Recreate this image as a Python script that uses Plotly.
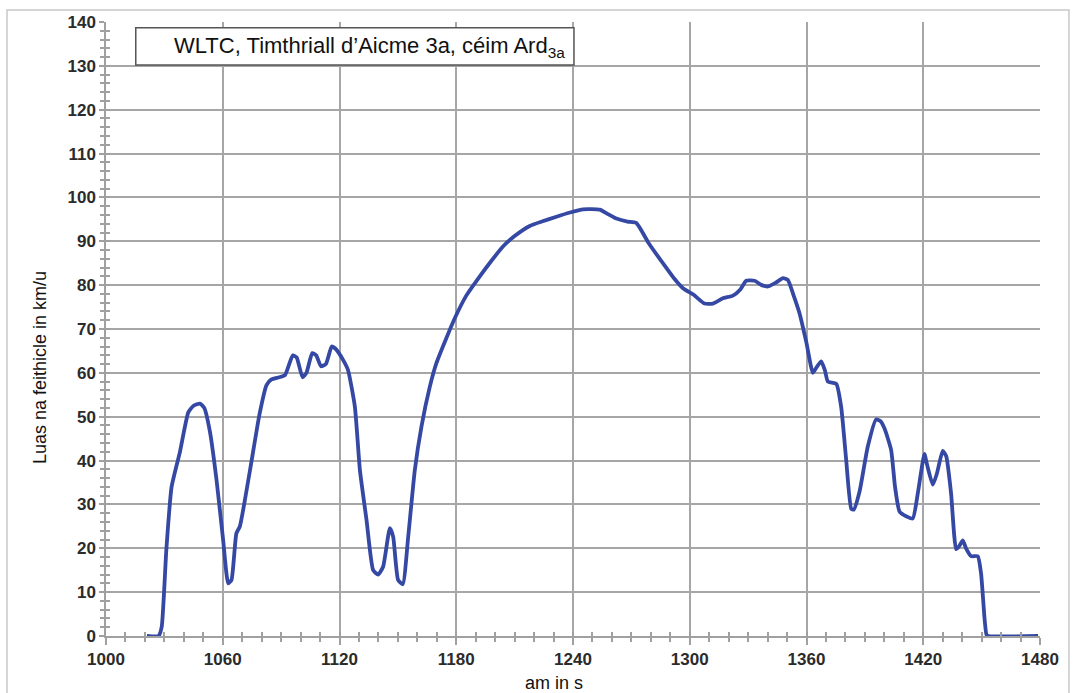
import plotly.graph_objects as go

time_s = [1021, 1027, 1028.6, 1031, 1033.7, 1038, 1042.3, 1045, 1048.3, 1050.5, 1053.4, 1056.8,
          1060.2, 1062.8, 1064.5, 1067, 1068.8, 1074, 1079, 1082.5, 1085, 1089, 1092, 1096, 1098,
          1101, 1103, 1106, 1108, 1110.5, 1113, 1116, 1118, 1121.9, 1124.4, 1127.9, 1130.5, 1133.9,
          1137.3, 1139.9, 1142.4, 1145.9, 1147.6, 1150.1, 1152.5, 1155.3, 1158.7, 1162.1, 1166.4,
          1169.8, 1175, 1179.3, 1185, 1192.1, 1198, 1204, 1210, 1217.8, 1224, 1231.5, 1238, 1245.2,
          1253.7, 1258, 1262.3, 1268, 1272.5, 1279, 1286.2, 1292, 1296.5, 1302, 1307.6, 1311.9,
          1317, 1322.2, 1326, 1329, 1333.3, 1337, 1340.2, 1344, 1347.9, 1350.4, 1353.5, 1356.4,
          1359.9, 1363.3, 1365.5, 1367.6, 1369.5, 1371, 1375.3, 1377.8, 1380.4, 1383, 1384.3,
          1387.3, 1391.5, 1395.8, 1398, 1400.1, 1403.5, 1405.5, 1407.8, 1411.2, 1414.6, 1417.2,
          1420.6, 1422, 1424.9, 1427, 1430, 1431.8, 1434.3, 1436.9, 1438.5, 1440.3, 1442, 1444.6,
          1448, 1449.7, 1451.5, 1452.5, 1453.5, 1479]
speed_kmh = [0, 0, 2, 19.6, 34, 42, 51, 52.5, 53, 52, 46.6, 35.6,
             21.9, 12, 12.8, 23.4, 25, 37.8, 50.8, 57.2, 58.5, 59, 59.5, 64, 63.5,
             59, 60, 64.5, 64, 61.5, 62, 66, 65.5, 62.9, 60.6, 52.3, 37.8, 26.4,
             15, 14, 15.8, 24.6, 22.6, 12.8, 11.8, 22.6, 37.8, 47.7, 56.8,
             62.2, 68, 72.5, 77.5, 82, 85.5, 88.8, 91.2, 93.5, 94.5, 95.6, 96.5, 97.3,
             97.2, 96.2, 95.2, 94.5, 94.2, 89.5, 85, 81.5, 79.3, 77.8, 75.8, 75.8,
             77, 77.6, 79, 81, 81, 80, 79.7, 80.5, 81.6, 81.2, 77.5, 73.6,
             67, 60, 61.5, 62.6, 60.5, 58, 57.5, 52.3, 40.1, 29, 28.8,
             33, 43.2, 49.4, 49, 47.3, 42.4, 34, 28.4, 27.3, 26.8, 32.5,
             41.5, 39, 34.5, 37, 42.2, 41, 32.5, 19.8, 20.5, 21.8, 20, 18.2,
             18.2, 14.3, 4, 0.3, 0, 0]

x_ticks = [1000, 1060, 1120, 1180, 1240, 1300, 1360, 1420, 1480]
y_ticks = list(range(0, 150, 10))
title_text = "WLTC, Timthriall d\u2019Aicme 3a, c\u00e9im Ard<sub>3a</sub>"
x_title = "am in s"
y_title = "Luas na feithicle in km/u"

fig = go.Figure()
fig.add_trace(go.Scatter(x=time_s, y=speed_kmh, mode="lines",
                         line=dict(color="#3548a3", width=3.8, shape="spline", smoothing=0.5),
                         hoverinfo="skip", showlegend=False))
# helper trace for the inside half of the crossing ticks
fig.add_trace(go.Scatter(x=[None], y=[None], xaxis="x2", yaxis="y2", showlegend=False,
                         hoverinfo="skip"))

tickfont = dict(family="Liberation Sans", size=17, color="#2b2b2b", weight="bold")
common_x = dict(range=[1000, 1480], tickmode="array", tickvals=x_ticks, showline=True,
                linecolor="#a0a0a0", linewidth=1.5, tickcolor="#a0a0a0", tickwidth=1.5)
common_y = dict(range=[0, 140], tickmode="array", tickvals=y_ticks, showline=True,
                linecolor="#a0a0a0", linewidth=1.5, tickcolor="#a0a0a0", tickwidth=1.5)

fig.update_layout(
    width=1073, height=693,
    margin=dict(l=106, r=33, t=22, b=57, autoexpand=False),
    paper_bgcolor="white", plot_bgcolor="white",
    xaxis=dict(**common_x, ticks="outside", ticklen=7, tickfont=tickfont,
               showgrid=True, gridcolor="#a6a6a6", gridwidth=1.5, zeroline=False,
               minor=dict(dtick=10, tick0=1000, ticks="outside", ticklen=4,
                          tickcolor="#a0a0a0", showgrid=False)),
    yaxis=dict(**common_y, ticks="outside", ticklen=5, tickfont=tickfont,
               showgrid=True, gridcolor="#a6a6a6", gridwidth=1.5, zeroline=False,
               minor=dict(dtick=2, tick0=0, ticks="outside", ticklen=4,
                          tickcolor="#a0a0a0", showgrid=False)),
    xaxis2=dict(**common_x, overlaying="x", anchor="y2", side="bottom", ticks="inside", ticklen=4,
                showticklabels=False, showgrid=False, zeroline=False,
                minor=dict(dtick=10, tick0=1000, ticks="inside", ticklen=4, tickcolor="#a0a0a0")),
    yaxis2=dict(**common_y, overlaying="y", anchor="x2", side="left", ticks="inside", ticklen=4,
                showticklabels=False, showgrid=False, zeroline=False,
                minor=dict(dtick=2, tick0=0, ticks="inside", ticklen=4, tickcolor="#a0a0a0")),
    shapes=[
        dict(type="rect", xref="x", yref="y", x0=1015.3, x1=1240.5, y0=130.2, y1=138.7,
             line=dict(color="#555555", width=1.5), fillcolor="white", layer="above"),
        dict(type="rect", xref="paper", yref="paper", x0=-0.106, x1=1.031, y0=-0.12, y1=1.0195,
             line=dict(color="#c8c8c8", width=1.5), fillcolor="rgba(0,0,0,0)", layer="below"),
    ],
    annotations=[
        dict(text=title_text, xref="x", yref="y", x=1236.8, y=134.3, xanchor="right",
             yanchor="middle", showarrow=False,
             font=dict(family="Liberation Sans", size=22, color="#111111")),
        dict(text=x_title, xref="paper", yref="paper", x=0.48, y=-0.0765, xanchor="center",
             yanchor="middle", showarrow=False,
             font=dict(family="Liberation Sans", size=18, color="#111111")),
        dict(text=y_title, xref="paper", yref="paper", x=-0.0707, y=0.438, xanchor="center",
             yanchor="middle", showarrow=False, textangle=-90,
             font=dict(family="Liberation Sans", size=18, color="#111111")),
    ],
)

fig.write_html("out.html", config={"displayModeBar": False},
               post_script="document.body.style.margin='0px';")
